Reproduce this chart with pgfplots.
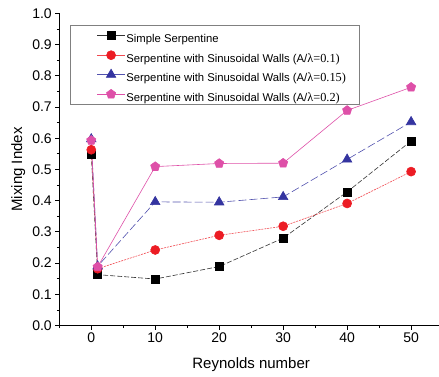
\documentclass[border=0pt]{standalone}
\usepackage{fontspec}
\setmainfont{Liberation Sans}
\newfontfamily\tnr{Liberation Serif}
\usepackage{pgfplots}
\pgfplotsset{compat=1.18}
\definecolor{cred}{RGB}{236,28,36}
\definecolor{cblue}{RGB}{52,52,160}
\definecolor{cpink}{RGB}{222,80,168}
\begin{document}
\begin{tikzpicture}
\path (-59.3pt,-51.3pt) rectangle (379.7pt,325.7pt);
\begin{axis}[
  at={(0pt,0pt)}, anchor=south west,
  scale only axis, width=379.5pt, height=312.4pt,
  xmin=-5, xmax=54.3, ymin=0, ymax=1,
  axis x line*=bottom, axis y line*=left,
  axis line style={-, line width=0.8pt},
  xtick={0,10,20,30,40,50}, minor xtick={-5,5,15,25,35,45},
  ytick={0,0.1,0.2,0.3,0.4,0.5,0.6,0.7,0.8,0.9,1.0},
  minor ytick={0.05,0.15,0.25,0.35,0.45,0.55,0.65,0.75,0.85,0.95},
  tick align=outside, major tick length=4pt, minor tick length=2.5pt,
  tick style={line width=0.8pt, black},
  /pgf/number format/assume math mode=true,
  ticklabel style={font=\fontsize{14}{16}\selectfont},
  yticklabel style={/pgf/number format/.cd, fixed, fixed zerofill, precision=1},
  xlabel={Reynolds number}, ylabel={Mixing Index},
  every axis x label/.style={at={(axis cs:25,0)}, yshift=-39pt, anchor=center, font=\fontsize{15}{17}\selectfont},
  every axis y label/.style={at={(axis description cs:0,0.5)}, xshift=-41pt, rotate=90, anchor=center, font=\fontsize{15}{17}\selectfont},
  legend style={at={(axis cs:-3.4,0.962)}, anchor=north west, draw=gray, line width=0.6pt,
    font=\fontsize{11.3}{13}\selectfont, inner xsep=12pt, inner ysep=2pt, row sep=3pt,
    nodes={inner sep=1pt, text height=14.5pt, text depth=0pt}},
  legend cell align=left,
  legend image code/.code={\path (-15pt,0pt); \draw[mark repeat=2,mark phase=2,#1,solid] plot coordinates {(0pt,0pt) (14pt,0pt) (28pt,0pt)};},
]
\addplot[black!80, line width=0.6pt, dash pattern=on 5pt off 2pt, mark=square*, mark size=4pt, mark options={solid, fill=black, draw=black}]
  coordinates {(0,0.548) (1,0.163) (10,0.149) (20,0.189) (30,0.280) (40,0.428) (50,0.591)};
\addlegendentry{Simple Serpentine}
\addplot[cred!80, line width=0.6pt, dash pattern=on 2pt off 1pt, mark=*, mark size=4.5pt, mark options={solid, fill=cred, draw=cred}]
  coordinates {(0,0.563) (1,0.182) (10,0.242) (20,0.289) (30,0.318) (40,0.391) (50,0.493)};
\addlegendentry{Serpentine with Sinusoidal Walls (A/{\tnr\fontsize{12.3}{13}\selectfont λ=0.1)}}
\addplot[cblue!85, line width=0.6pt, dash pattern=on 8pt off 3pt, mark=triangle*, mark size=5.5pt, mark options={solid, fill=cblue, draw=cblue}]
  coordinates {(0,0.597) (1,0.190) (10,0.396) (20,0.395) (30,0.412) (40,0.532) (50,0.652)};
\addlegendentry{Serpentine with Sinusoidal Walls (A/{\tnr\fontsize{12.3}{13}\selectfont λ=0.15)}}
\addplot[cpink, line width=0.6pt, mark=pentagon*, mark size=4.8pt, mark options={solid, fill=cpink, draw=cpink}]
  coordinates {(0,0.593) (1,0.188) (10,0.509) (20,0.519) (30,0.520) (40,0.689) (50,0.763)};
\addlegendentry{Serpentine with Sinusoidal Walls (A/{\tnr\fontsize{12.3}{13}\selectfont λ=0.2)}}
\end{axis}
\end{tikzpicture}
\end{document}
